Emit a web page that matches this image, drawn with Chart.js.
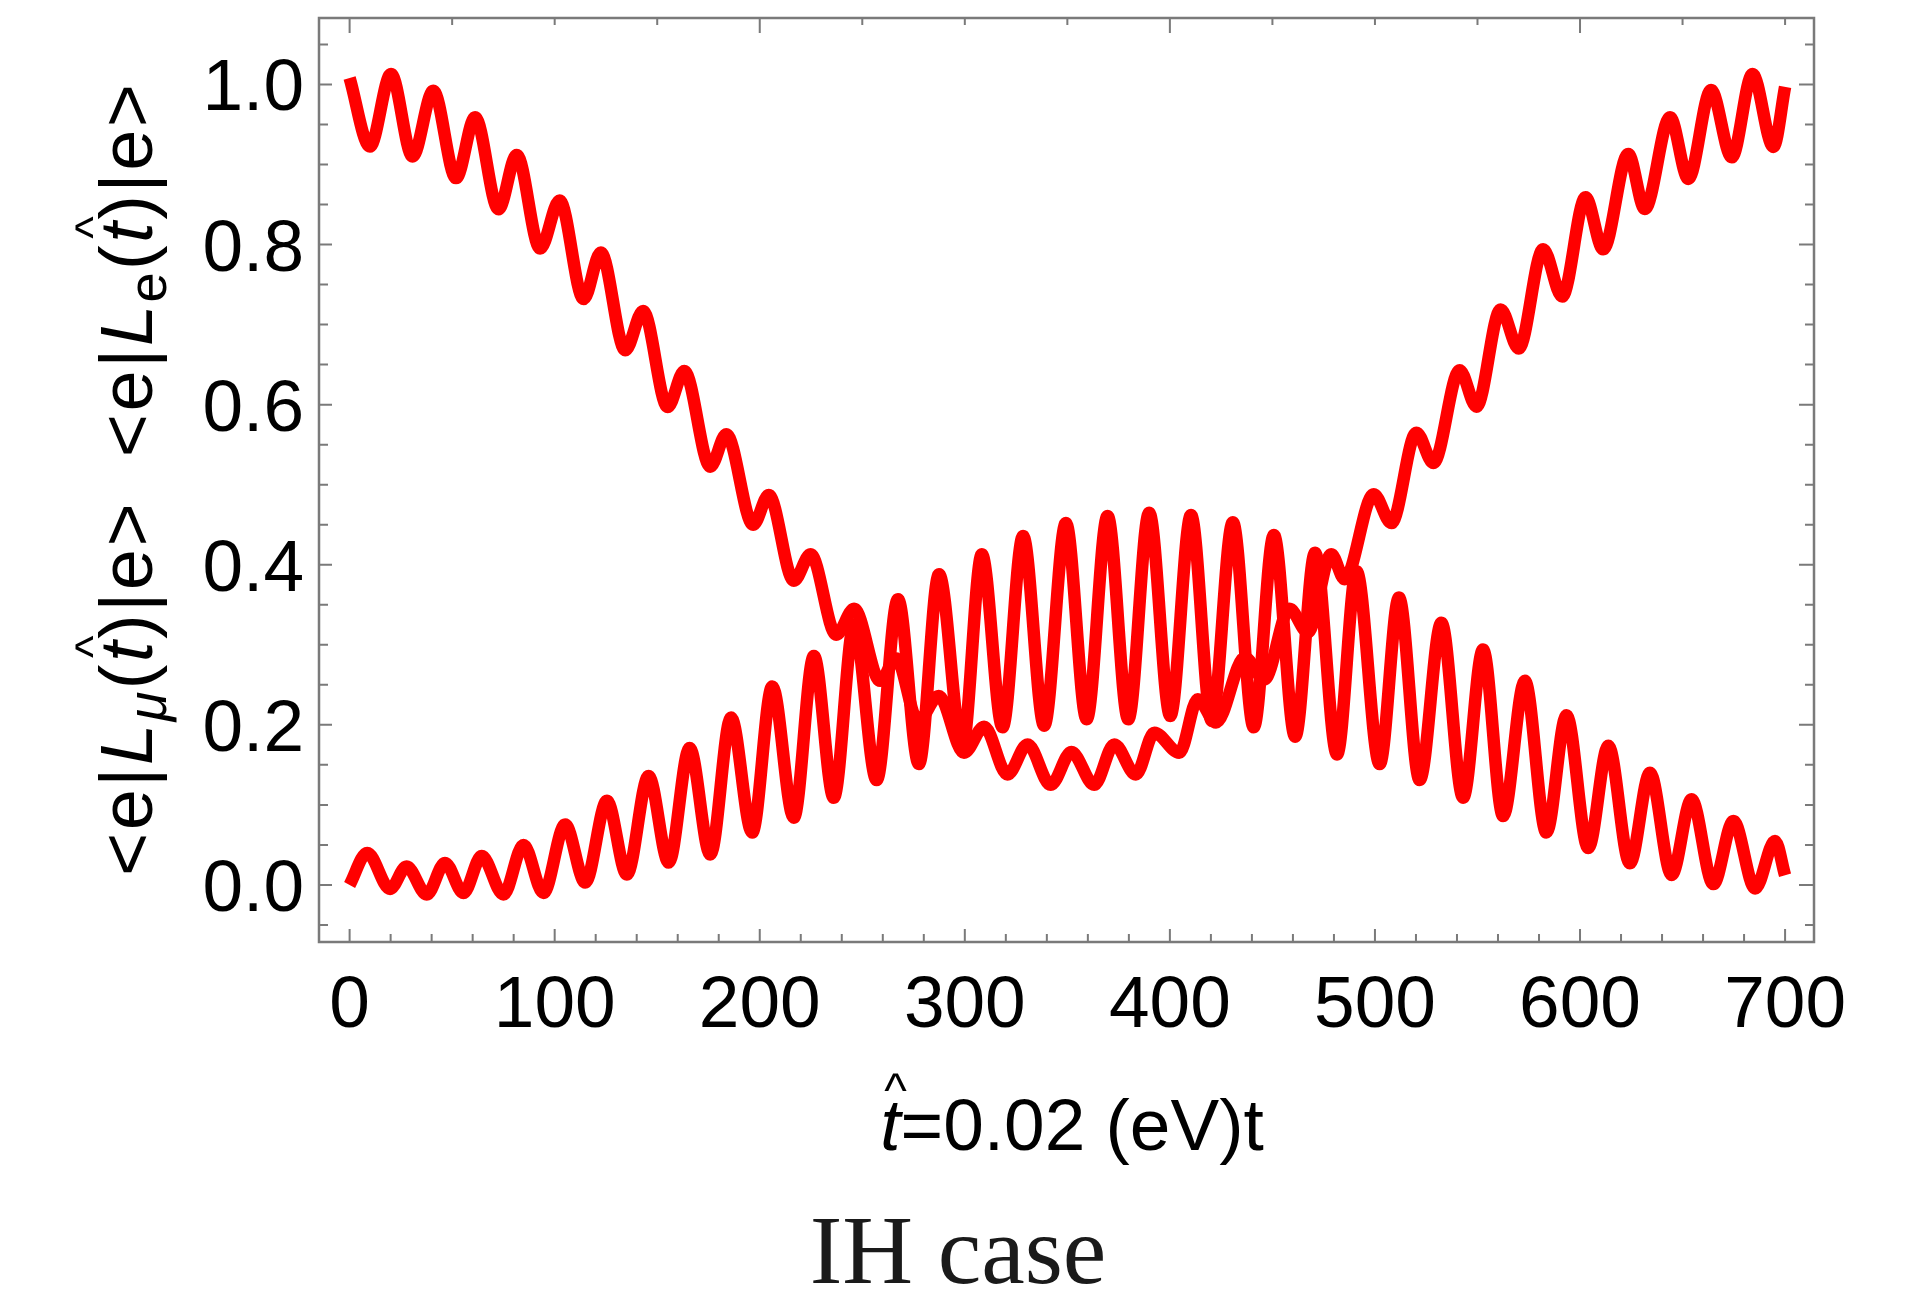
<!DOCTYPE html>
<html>
<head>
<meta charset="utf-8">
<script src="https://cdn.jsdelivr.net/npm/chart.js"></script>
<style>
  html, body { margin: 0; padding: 0; background: #fff; }
  canvas { display: block; }
</style>
</head>
<body>
<canvas id="chart" width="1924" height="1297"></canvas>
<script>
// <e|L_e(t)|e> : turning points
const leTimes = [0, 9.9, 20.2, 30.7, 40.8, 51.9, 61.2, 72.6, 81.5, 92.9, 102.4, 114.1, 122.5, 134.4, 143.1,
  155.1, 163.2, 175.9, 183.7, 196.8, 204.4, 216.6, 224.8, 237.3, 246.0, 258.7, 266.5, 277.2, 287.3, 299.6,
  309.4, 320.8, 330.6, 341.9, 352.0, 363.1, 372.9, 383.4, 392.4, 404.6, 413.6, 422.5, 436.5, 446.1, 458.3,
  467.3, 478.7, 485.2, 499.4, 508.0, 520.2, 528.5, 541.3, 549.5, 561.3, 570.1, 582.0, 591.3, 602.7, 611.3,
  623.5, 631.6, 643.9, 652.8, 663.9, 674.0, 684.1, 694.3, 700.0];
const leValues = [1.008, 0.9225, 1.013, 0.910, 0.992, 0.883, 0.959, 0.844, 0.912, 0.795, 0.855, 0.732, 0.790, 0.668, 0.717,
  0.597, 0.642, 0.5225, 0.563, 0.450, 0.487, 0.380, 0.413, 0.3125, 0.345, 0.255, 0.283, 0.205, 0.236, 0.165,
  0.1975, 0.138, 0.1755, 0.125, 0.166, 0.125, 0.1755, 0.138, 0.190, 0.165, 0.232, 0.203, 0.284, 0.257, 0.345,
  0.3155, 0.413, 0.382, 0.488, 0.452, 0.565, 0.527, 0.643, 0.5975, 0.719, 0.670, 0.794, 0.735, 0.859, 0.794,
  0.913, 0.8445, 0.959, 0.882, 0.993, 0.909, 1.013, 0.922, 0.997];

// <e|L_mu(t)|e> : turning points
const lmuTimes = [0, 8.6, 19.7, 27.8, 37.6, 46.5, 55.5, 64.4, 75.0, 84.8, 94.5, 105.1, 114.9, 125.5, 135.2,
  145.8, 155.6, 165.8, 175.9, 186.0, 196.3, 206.1, 216.6, 226.4, 236.1, 246.0, 257.0, 267.4, 277.6, 287.4,
  298.8, 308.3, 318.4, 328.4, 338.7, 349.3, 359.4, 369.6, 379.7, 389.9, 400.2, 410.3, 420.4, 430.7, 440.9,
  450.7, 461.1, 470.8, 481.5, 491.0, 502.3, 511.7, 521.8, 532.4, 543.0, 552.7, 562.5, 573.1, 583.6, 593.4,
  604.0, 613.8, 624.3, 634.1, 644.7, 654.4, 665.0, 674.8, 685.4, 695.1, 700.0];
const lmuValues = [0.0, 0.040, -0.005, 0.023, -0.012, 0.0275, -0.010, 0.036, -0.012, 0.050, -0.010, 0.0755, 0.003, 0.105, 0.013,
  0.136, 0.028, 0.171, 0.038, 0.209, 0.0655, 0.248, 0.084, 0.286, 0.109, 0.325, 0.131, 0.357, 0.151, 0.388,
  0.172, 0.413, 0.197, 0.436, 0.199, 0.452, 0.207, 0.461, 0.207, 0.465, 0.211, 0.462, 0.205, 0.453, 0.197,
  0.437, 0.185, 0.415, 0.163, 0.392, 0.151, 0.359, 0.131, 0.3275, 0.109, 0.294, 0.086, 0.255, 0.0655, 0.212,
  0.046, 0.174, 0.027, 0.140, 0.0125, 0.107, 0.001, 0.080, -0.0045, 0.055, 0.012];

const xTickValues = [0, 100, 200, 300, 400, 500, 600, 700];
const xTickLabels = ['0', '100', '200', '300', '400', '500', '600', '700'];
const yTickValues = [0, 0.2, 0.4, 0.6, 0.8, 1.0];
const yTickLabels = ['0.0', '0.2', '0.4', '0.6', '0.8', '1.0'];

const SANS = '"Liberation Sans", Arial, sans-serif';

function toPoints(xs, ys) {
  return xs.map((x, i) => ({ x: x, y: ys[i] }));
}

// draws a run of styled pieces along the baseline, returns the advance width
function drawRun(ctx, pieces, x, y, spacing, measureOnly) {
  let cx = x;
  pieces.forEach((p, i) => {
    ctx.font = p.font;
    const w = ctx.measureText(p.text).width;
    if (!measureOnly) {
      ctx.fillText(p.text, cx, y + (p.dy || 0));
      if (p.hat) {
        ctx.font = '48px ' + SANS;
        const hw = ctx.measureText('^').width;
        ctx.fillText('^', cx + w / 2 - hw / 2 + 5, y - 43);
      }
    }
    cx += w;
    if (i < pieces.length - 1) cx += spacing;
  });
  return cx - x;
}

const framePlugin = {
  id: 'mmaFrame',
  afterDatasetsDraw(chart) {
    const ctx = chart.ctx;
    const a = chart.chartArea;
    const xs = chart.scales.x;
    const ys = chart.scales.y;
    ctx.save();

    // frame and ticks
    ctx.strokeStyle = '#7a7a7a';
    ctx.lineWidth = 2.5;
    ctx.strokeRect(a.left, a.top, a.right - a.left, a.bottom - a.top);
    ctx.lineWidth = 2;
    ctx.beginPath();
    for (let t = 0; t <= 700; t += 20) {
      const px = xs.getPixelForValue(t);
      const len = t % 100 === 0 ? 13 : 8;
      ctx.moveTo(px, a.bottom); ctx.lineTo(px, a.bottom - len);
    }
    for (let t = 0; t <= 700; t += 50) {
      const px = xs.getPixelForValue(t);
      const len = t % 200 === 0 ? 15 : 7;
      ctx.moveTo(px, a.top); ctx.lineTo(px, a.top + len);
    }
    for (let i = -1; i <= 21; i++) {
      const py = ys.getPixelForValue(i * 0.05);
      const major = i % 4 === 0;
      ctx.moveTo(a.left, py); ctx.lineTo(a.left + (major ? 13 : 9), py);
      ctx.moveTo(a.right, py); ctx.lineTo(a.right - (major ? 15 : 9), py);
    }
    ctx.stroke();

    // tick labels
    ctx.fillStyle = '#000';
    ctx.font = '73px ' + SANS;
    ctx.textBaseline = 'alphabetic';
    ctx.textAlign = 'right';
    yTickValues.forEach((v, i) => {
      ctx.fillText(yTickLabels[i], a.left - 15, ys.getPixelForValue(v) + 26);
    });
    ctx.textAlign = 'center';
    xTickValues.forEach((t, i) => {
      ctx.fillText(xTickLabels[i], xs.getPixelForValue(t), a.bottom + 85);
    });

    // x axis title
    ctx.textAlign = 'left';
    const xTitle = [
      { text: 't', font: 'italic 73px ' + SANS, hat: true },
      { text: '=0.02 (eV)t', font: '73px ' + SANS }
    ];
    const xw = drawRun(ctx, xTitle, 0, 0, 0, true);
    drawRun(ctx, xTitle, 1072 - xw / 2, 1150, 0, false);

    // y axis title, rotated
    const n = '74px ' + SANS, it = 'italic 74px ' + SANS, sub = '54px ' + SANS, subIt = 'italic 54px ' + SANS;
    const half = (subText, subFont) => [
      { text: '<', font: n }, { text: 'e', font: n }, { text: '|', font: n },
      { text: 'L', font: it }, { text: subText, font: subFont, dy: 14 },
      { text: '(', font: n }, { text: 't', font: it, hat: true }, { text: ')', font: n },
      { text: '|', font: n }, { text: 'e', font: n }, { text: '>', font: n }
    ];
    const yTitle = half('\u03bc', subIt).concat([{ text: '  ', font: n }], half('e', sub));
    const natural = drawRun(ctx, yTitle, 0, 0, 0, true);
    const target = 792;
    const spacing = (target - natural) / (yTitle.length - 1);
    ctx.translate(152, 480);
    ctx.rotate(-Math.PI / 2);
    drawRun(ctx, yTitle, -target / 2, 0, spacing, false);
    ctx.setTransform(1, 0, 0, 1, 0, 0);

    // caption
    ctx.fillStyle = '#1a1a1a';
    ctx.font = '98px "Liberation Serif", "Times New Roman", serif';
    ctx.textAlign = 'center';
    ctx.fillText('IH case', 958, 1283);
    ctx.restore();
  }
};

const ctx = document.getElementById('chart').getContext('2d');
new Chart(ctx, {
  type: 'line',
  data: {
    datasets: [
      { label: '<e|L_e(t)|e>', data: toPoints(leTimes, leValues) },
      { label: '<e|L_mu(t)|e>', data: toPoints(lmuTimes, lmuValues) }
    ]
  },
  options: {
    responsive: false,
    animation: false,
    events: [],
    layout: { padding: { left: 319, top: 18, right: 110, bottom: 355 } },
    elements: {
      point: { radius: 0 },
      line: {
        borderColor: '#ff0000',
        borderWidth: 12.5,
        cubicInterpolationMode: 'monotone',
        borderJoinStyle: 'round',
        fill: false
      }
    },
    scales: {
      x: { type: 'linear', min: -14.93, max: 714.1, display: false },
      y: { type: 'linear', min: -0.0713, max: 1.083, display: false }
    },
    plugins: { legend: { display: false }, tooltip: { enabled: false } }
  },
  plugins: [framePlugin]
});
</script>
</body>
</html>
